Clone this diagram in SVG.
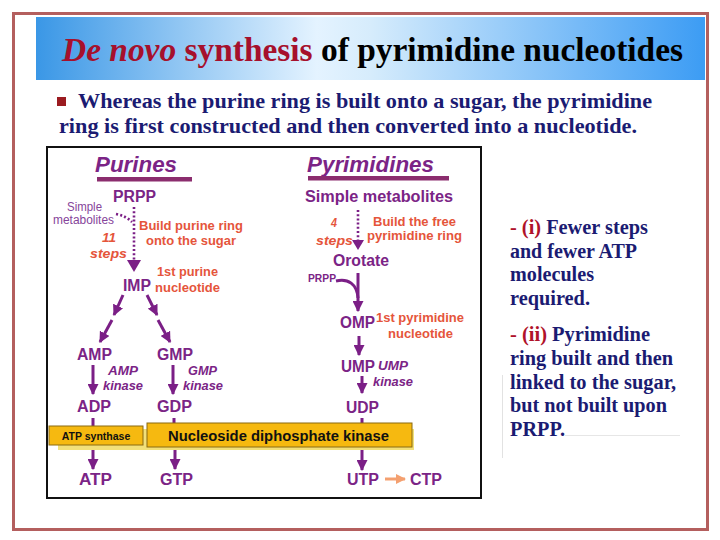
<svg xmlns="http://www.w3.org/2000/svg" width="720" height="540" viewBox="0 0 720 540">
<defs>
<linearGradient id="ban" x1="0" y1="0" x2="1" y2="0">
<stop offset="0" stop-color="#3a97e6"/>
<stop offset="0.42" stop-color="#e4f3ff"/>
<stop offset="0.5" stop-color="#d6ecfc"/>
<stop offset="1" stop-color="#3c9cf4"/>
</linearGradient>
<marker id="ah" viewBox="0 0 10 10" refX="9" refY="5" markerWidth="11" markerHeight="11" markerUnits="userSpaceOnUse" orient="auto">
<path d="M0,0 L10,5 L0,10 z" fill="#7b1f86"/>
</marker>
<marker id="ao" viewBox="0 0 10 10" refX="9" refY="5" markerWidth="10" markerHeight="10" markerUnits="userSpaceOnUse" orient="auto">
<path d="M0,0 L10,5 L0,10 z" fill="#f4a070"/>
</marker>
<style>
.serif{font-family:"Liberation Serif","Times New Roman",serif;font-weight:bold}
.navy{fill:#1b1b72}
.sans{font-family:"Liberation Sans",Arial,sans-serif;font-weight:bold}
.pur{fill:#7b2486}
.lbl{font-size:16px}
.red{fill:#e5553b;font-size:13px}
.it{font-style:italic}
.arr{fill:none;stroke:#7b1f86;stroke-width:3;marker-end:url(#ah)}
.dot{fill:none;stroke:#7b1f86;stroke-width:2.6;stroke-dasharray:2 2.2}
.stub{fill:none;stroke:#7b1f86;stroke-width:3}
.box{fill:#f6b910;stroke:#8a6a10;stroke-width:1}
</style>
</defs>
<rect x="0" y="0" width="720" height="540" fill="#ffffff"/>
<rect x="13.5" y="13.5" width="694" height="516" fill="#ffffff" stroke="#b45f5e" stroke-width="3"/>

<g id="banner">
<rect x="36" y="17" width="669" height="63" fill="url(#ban)"/>
<text x="62" y="61" class="serif" font-size="33" textLength="621" lengthAdjust="spacingAndGlyphs"><tspan fill="#a6102c" font-style="italic">De novo</tspan><tspan fill="#a6102c"> synthesis</tspan><tspan fill="#000000"> of pyrimidine nucleotides</tspan></text>
</g>

<g id="intro">
<rect x="57" y="97" width="9" height="9" fill="#9b1b20"/>
<text x="78" y="108" class="serif navy" font-size="21" textLength="574" lengthAdjust="spacingAndGlyphs">Whereas the purine ring is built onto a sugar, the pyrimidine</text>
<text x="59" y="133" class="serif navy" font-size="21" textLength="578" lengthAdjust="spacingAndGlyphs">ring is first constructed and then converted into a nucleotide.</text>
</g>

<g id="panel">
<rect x="47" y="147" width="434" height="351" fill="#ffffff" stroke="#111111" stroke-width="2"/>
</g>

<g id="purines-title">
<text x="95" y="172" class="sans pur it" font-size="22" textLength="82" lengthAdjust="spacingAndGlyphs">Purines</text>
<rect x="97" y="177" width="95" height="4.5" fill="#8b2d6e"/>
</g>
<g id="pyrimidines-title">
<text x="307" y="172" class="sans pur it" font-size="22" textLength="127" lengthAdjust="spacingAndGlyphs">Pyrimidines</text>
<rect x="308" y="176" width="141" height="4.5" fill="#8b2d6e"/>
</g>

<g id="connectors">
<path class="dot" d="M116,214 Q126,216 132,222"/>
<path class="dot" d="M134,207 L134,262"/>
<path d="M127,260 L141,260 L134,272 z" fill="#7b1f86"/>
<path class="arr" d="M123,295 L114,315"/>
<path class="arr" d="M112,320 L100,342"/>
<path class="arr" d="M147,295 L157,315"/>
<path class="arr" d="M158,320 L170,342"/>
<path class="arr" d="M93,365 L93,394"/>
<path class="arr" d="M173,365 L173,394"/>
<path class="stub" d="M93,418 L93,426"/>
<path class="stub" d="M174,418 L174,423"/>
<path class="stub" d="M362,418 L362,423"/>
<path class="arr" d="M93,448 L93,469"/>
<path class="arr" d="M175,448 L175,469"/>
<path class="arr" d="M362,450 L362,470"/>
<path class="arr" d="M385,479 L405,479" style="stroke:#f4a070;marker-end:url(#ao)"/>
<path class="dot" d="M358,210 L358,241"/>
<path d="M352,240 L364,240 L358,250 z" fill="#7b1f86"/>
<path class="stub" d="M336,281 C348,278 357,284 358,298"/>
<path class="arr" d="M358,273 L358,311"/>
<path class="arr" d="M359,336 L359,355"/>
<path class="arr" d="M362,376 L362,393"/>
</g>

<g id="purine-prpp"><text x="113" y="202" class="sans pur lbl" textLength="43" lengthAdjust="spacingAndGlyphs">PRPP</text></g>
<g id="purine-simple"><text x="67" y="211" font-family="Liberation Sans,Arial,sans-serif" font-size="12" fill="#86449a" textLength="35" lengthAdjust="spacingAndGlyphs">Simple</text>
<text x="53" y="224" font-family="Liberation Sans,Arial,sans-serif" font-size="12" fill="#86449a" textLength="61" lengthAdjust="spacingAndGlyphs">metabolites</text></g>
<g id="purine-build"><text x="139" y="230" class="sans red" textLength="104" lengthAdjust="spacingAndGlyphs">Build purine ring</text>
<text x="146" y="245" class="sans red" textLength="90" lengthAdjust="spacingAndGlyphs">onto the sugar</text></g>
<g id="purine-steps"><text x="102" y="242" class="sans red it" textLength="14" lengthAdjust="spacingAndGlyphs">11</text>
<text x="90" y="258" class="sans red it" textLength="37" lengthAdjust="spacingAndGlyphs">steps</text></g>
<g id="imp"><text x="123" y="291" class="sans pur lbl" textLength="28" lengthAdjust="spacingAndGlyphs">IMP</text></g>
<g id="imp-note"><text x="157" y="276" class="sans red" textLength="61" lengthAdjust="spacingAndGlyphs">1st purine</text>
<text x="155" y="292" class="sans red" textLength="65" lengthAdjust="spacingAndGlyphs">nucleotide</text></g>
<g id="amp"><text x="77" y="360" class="sans pur lbl" textLength="35" lengthAdjust="spacingAndGlyphs">AMP</text></g>
<g id="gmp"><text x="157" y="360" class="sans pur lbl" textLength="36" lengthAdjust="spacingAndGlyphs">GMP</text></g>
<g id="amp-kinase"><text x="108" y="375" class="sans pur it" font-size="12.5" textLength="30" lengthAdjust="spacingAndGlyphs">AMP</text>
<text x="103" y="390" class="sans pur it" font-size="12.5" textLength="40" lengthAdjust="spacingAndGlyphs">kinase</text></g>
<g id="gmp-kinase"><text x="188" y="375" class="sans pur it" font-size="12.5" textLength="29" lengthAdjust="spacingAndGlyphs">GMP</text>
<text x="183" y="390" class="sans pur it" font-size="12.5" textLength="40" lengthAdjust="spacingAndGlyphs">kinase</text></g>
<g id="adp"><text x="77" y="412" class="sans pur lbl" textLength="34" lengthAdjust="spacingAndGlyphs">ADP</text></g>
<g id="gdp"><text x="157" y="412" class="sans pur lbl" textLength="35" lengthAdjust="spacingAndGlyphs">GDP</text></g>

<g id="enzyme-bar">
<rect x="58" y="429" width="356" height="21" fill="#f2e07a"/>
<rect x="49" y="426" width="94" height="19" class="box"/>
<text x="96" y="440" text-anchor="middle" class="sans" font-size="10.5" fill="#111111">ATP synthase</text>
<rect x="147" y="423" width="265" height="24" class="box"/>
<text x="168" y="441" class="sans" font-size="15.5" fill="#111111" textLength="221" lengthAdjust="spacingAndGlyphs">Nucleoside diphosphate kinase</text>
</g>

<g id="atp"><text x="79" y="485" class="sans pur lbl" textLength="33" lengthAdjust="spacingAndGlyphs">ATP</text></g>
<g id="gtp"><text x="160" y="485" class="sans pur lbl" textLength="33" lengthAdjust="spacingAndGlyphs">GTP</text></g>

<g id="pyr-simple"><text x="305" y="202" class="sans pur lbl" textLength="148" lengthAdjust="spacingAndGlyphs">Simple metabolites</text></g>
<g id="pyr-steps"><text x="331" y="227" class="sans red it" textLength="6" lengthAdjust="spacingAndGlyphs">4</text>
<text x="316" y="245" class="sans red it" textLength="37" lengthAdjust="spacingAndGlyphs">steps</text></g>
<g id="pyr-build"><text x="373" y="226" class="sans red" textLength="83" lengthAdjust="spacingAndGlyphs">Build the free</text>
<text x="367" y="240" class="sans red" textLength="95" lengthAdjust="spacingAndGlyphs">pyrimidine ring</text></g>
<g id="orotate"><text x="333" y="266" class="sans pur lbl" textLength="56" lengthAdjust="spacingAndGlyphs">Orotate</text></g>
<g id="pyr-prpp"><text x="308" y="282" class="sans pur" font-size="11.5" textLength="28" lengthAdjust="spacingAndGlyphs">PRPP</text></g>
<g id="omp"><text x="340" y="328" class="sans pur lbl" textLength="35" lengthAdjust="spacingAndGlyphs">OMP</text></g>
<g id="omp-note"><text x="376" y="322" class="sans red" textLength="88" lengthAdjust="spacingAndGlyphs">1st pyrimidine</text>
<text x="388" y="338" class="sans red" textLength="65" lengthAdjust="spacingAndGlyphs">nucleotide</text></g>
<g id="ump"><text x="341" y="372" class="sans pur lbl" textLength="34" lengthAdjust="spacingAndGlyphs">UMP</text></g>
<g id="ump-kinase"><text x="378" y="370" class="sans pur it" font-size="12" textLength="30" lengthAdjust="spacingAndGlyphs">UMP</text>
<text x="373" y="386" class="sans pur it" font-size="12.5" textLength="40" lengthAdjust="spacingAndGlyphs">kinase</text></g>
<g id="udp"><text x="346" y="413" class="sans pur lbl" textLength="33" lengthAdjust="spacingAndGlyphs">UDP</text></g>
<g id="utp"><text x="347" y="485" class="sans pur lbl" textLength="32" lengthAdjust="spacingAndGlyphs">UTP</text></g>
<g id="ctp"><text x="410" y="485" class="sans pur lbl" textLength="32" lengthAdjust="spacingAndGlyphs">CTP</text></g>

<g id="notes">
<line x1="502.5" y1="375" x2="502.5" y2="458" stroke="#e2e2e2" stroke-width="1"/>
<line x1="565" y1="435.5" x2="680" y2="435.5" stroke="#e6e6e6" stroke-width="1"/>
<text x="510" y="234" class="serif navy" font-size="20" textLength="138" lengthAdjust="spacingAndGlyphs"><tspan fill="#b0122a">- (i)</tspan> Fewer steps</text>
<text x="510" y="258" class="serif navy" font-size="20" textLength="127" lengthAdjust="spacingAndGlyphs">and fewer ATP</text>
<text x="510" y="281" class="serif navy" font-size="20" textLength="84" lengthAdjust="spacingAndGlyphs">molecules</text>
<text x="510" y="305" class="serif navy" font-size="20" textLength="80" lengthAdjust="spacingAndGlyphs">required.</text>
<text x="510" y="341" class="serif navy" font-size="20" textLength="140" lengthAdjust="spacingAndGlyphs"><tspan fill="#b0122a">- (ii)</tspan> Pyrimidine</text>
<text x="510" y="365" class="serif navy" font-size="20" textLength="163" lengthAdjust="spacingAndGlyphs">ring built and then</text>
<text x="510" y="389" class="serif navy" font-size="20" textLength="166" lengthAdjust="spacingAndGlyphs">linked to the sugar,</text>
<text x="510" y="412" class="serif navy" font-size="20" textLength="157" lengthAdjust="spacingAndGlyphs">but not built upon</text>
<text x="510" y="436" class="serif navy" font-size="20" textLength="55" lengthAdjust="spacingAndGlyphs">PRPP.</text>
</g>
</svg>
